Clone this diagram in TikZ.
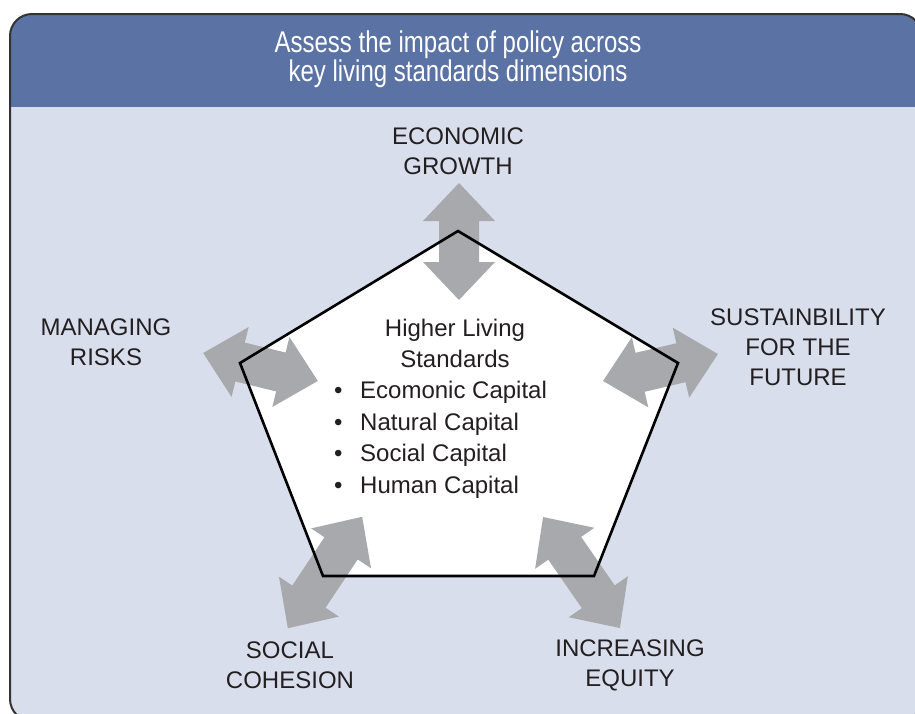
\documentclass[tikz,border=0pt]{standalone}
\usepackage{fontspec}
\setmainfont{Liberation Sans}
\newfontfamily\headfont[FakeStretch=0.8]{Liberation Sans}

\definecolor{headblue}{HTML}{5B72A5}
\definecolor{panelblue}{HTML}{D9DEEC}
\definecolor{arrowgray}{HTML}{A7A9AC}
\definecolor{textdark}{HTML}{231F20}

\tikzset{
	dimlabel/.style={align=center, font=\fontsize{24}{30}\selectfont, text=textdark, inner sep=0pt},
	% two-headed block arrow, #1 = half of its length
	pics/dblarrow/.style={code={
		\fill[arrowgray] (-#1,0) -- (-#1+38,-36) -- (-#1+38,-20) -- (#1-38,-20) -- (#1-38,-36)
			-- (#1,0) -- (#1-38,36) -- (#1-38,20) -- (-#1+38,20) -- (-#1+38,36) -- cycle;
	}}
}

\begin{document}
\begin{tikzpicture}[x=1pt, y=-1pt]
		\clip (0,0) rectangle (915,713);

		% panel and title band
		\fill[panelblue, rounded corners=22pt] (10,14) rectangle (922,721);
		\begin{scope}
			\clip[rounded corners=22pt] (10,14) rectangle (922,721);
			\fill[headblue] (10,14) rectangle (922,107);
		\end{scope}
		\draw[line width=2pt, black!80, rounded corners=22pt] (10,14) rectangle (922,721);

		\node[font=\headfont\fontsize{30}{27}\selectfont, text=white, align=center, inner sep=0pt] (title) at (458,59)
			{Assess the impact of policy across\\key living standards dimensions};

		% pentagon
		\coordinate (ptop) at (458,231);
		\coordinate (pright) at (678,363);
		\coordinate (pbotright) at (594,576);
		\coordinate (pbotleft) at (323,576);
		\coordinate (pleft) at (240,363);

		\fill[white] (ptop) -- (pright) -- (pbotright) -- (pbotleft) -- (pleft) -- cycle;

		\pic[rotate=90] (growtharrow) at (459,241.5) {dblarrow=58.5};
		\pic[rotate=-13.7] (risksarrow) at (260.5,367) {dblarrow=59};
		\pic[rotate=13.2] (futurearrow) at (660.5,367.5) {dblarrow=59};
		\pic[rotate=56.3] (cohesionarrow) at (325,572.5) {dblarrow=67};
		\pic[rotate=-55.3] (equityarrow) at (581.5,572.5) {dblarrow=67.5};

		\draw[line width=2.6pt, line join=miter] (ptop) -- (pright) -- (pbotright) -- (pbotleft) -- (pleft) -- cycle;

		% centre text
		\node[dimlabel, font=\fontsize{24}{31}\selectfont] (standards) at (455,343) {Higher Living\\Standards};
		\node[dimlabel, font=\fontsize{24}{31.6}\selectfont, align=left, anchor=north west] (capitals) at (334,381)
			{\makebox[26pt][l]{\textbullet}Ecomonic Capital\\
			 \makebox[26pt][l]{\textbullet}Natural Capital\\
			 \makebox[26pt][l]{\textbullet}Social Capital\\
			 \makebox[26pt][l]{\textbullet}Human Capital};

		% dimensions
		\node[dimlabel] (growth) at (458,151.5) {ECONOMIC\\GROWTH};
		\node[dimlabel] (risks) at (106,342.5) {MANAGING\\RISKS};
		\node[dimlabel] (future) at (798,347) {SUSTAINBILITY\\FOR THE\\FUTURE};
		\node[dimlabel] (cohesion) at (290,665) {SOCIAL\\COHESION};
		\node[dimlabel] (equity) at (630,665) {INCREASING\\EQUITY};

	\end{tikzpicture}
\end{document}
